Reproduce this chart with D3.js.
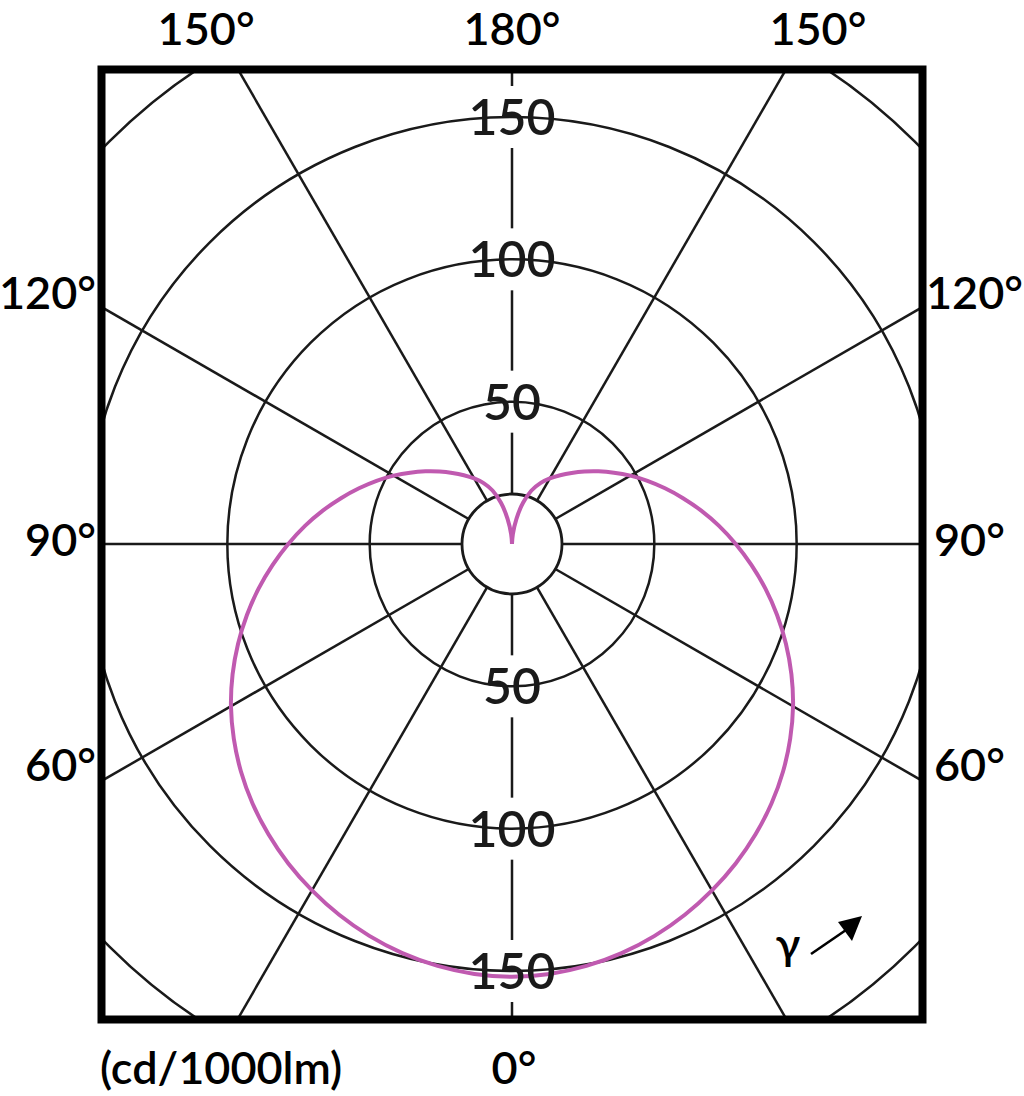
<!DOCTYPE html>
<html><head><meta charset="utf-8">
<script src="https://cdn.jsdelivr.net/npm/d3@7"></script>
<style>html,body{margin:0;padding:0;background:#fff;}svg{display:block;}</style>
</head><body>
<svg id="chart" width="1024" height="1096"></svg>
<script>
// ---- data ----
const gammaAngles = [0,5,10,15,20,25,30,35,40,45,50,55,60,65,70,75,80,85,90,95,100,105,110,115,120,125,130,135,140,145,150,155,160,165,170,175,180];
const intensity   = [152,151.6,150.5,148.8,146.5,143.7,140.5,137,133.1,128.9,124.3,119.3,114,108.3,102.4,96.4,90.4,84.4,78.6,73,67.5,62.2,57.2,52.5,48,43.7,39.7,36,32.6,29.5,26.6,23.6,20,15,9,3.5,0];
const ringValues = [50,100,150,200];
const ringLabels = [50,100,150];
const spokeAngles = [0,30,60,90,120,150,180,210,240,270,300,330];
const topLabels = [{t:"150°",a:-150},{t:"180°",a:180},{t:"150°",a:150}];
const sideLabels = [{t:"120°",a:120},{t:"90°",a:90},{t:"60°",a:60}];
const unitLabel = "(cd/1000lm)";
const zeroLabel = "0°";

// ---- layout ----
const svg = d3.select("#chart");
const cx = 512, cy = 544;
const frame = {x0:101.5, y0:69.5, x1:922.5, y1:1019.5};
const r = d3.scaleLinear().domain([0,150]).range([0,427]);
const innerR = 50;
const font = "Lato, 'Open Sans', 'DejaVu Sans', sans-serif";
const ink = "#1a1a1a";
const fs = 45;

svg.append("defs").append("clipPath").attr("id","clip")
  .append("rect").attr("x",frame.x0).attr("y",frame.y0)
  .attr("width",frame.x1-frame.x0).attr("height",frame.y1-frame.y0);

const g = svg.append("g").attr("clip-path","url(#clip)");
const rad = d => d*Math.PI/180;
const px = (gam, rr) => cx + rr*Math.sin(rad(gam));
const py = (gam, rr) => cy + rr*Math.cos(rad(gam));

// spokes
g.selectAll("line.spoke").data(spokeAngles).join("line")
  .attr("class","spoke")
  .attr("x1",d=>px(d,innerR)).attr("y1",d=>py(d,innerR))
  .attr("x2",d=>px(d,900)).attr("y2",d=>py(d,900))
  .attr("stroke",ink).attr("stroke-width",2.5);

// white gaps on the vertical spoke behind the ring labels
const gapH = 62;
ringLabels.forEach(v=>{
  [-1,1].forEach(s=>{
    g.append("rect").attr("x",cx-6).attr("y",cy + s*r(v) - gapH/2)
      .attr("width",12).attr("height",gapH).attr("fill","#fff");
  });
});

// rings
g.selectAll("circle.ring").data(ringValues).join("circle")
  .attr("class","ring").attr("cx",cx).attr("cy",cy).attr("r",d=>r(d))
  .attr("fill","none").attr("stroke",ink).attr("stroke-width",2.5);
g.append("circle").attr("cx",cx).attr("cy",cy).attr("r",innerR)
  .attr("fill","none").attr("stroke",ink).attr("stroke-width",2.8);

// intensity curve (symmetric C-planes)
const pts = [];
for (let i=gammaAngles.length-1;i>=0;i--) pts.push([Math.PI - rad(gammaAngles[i]), r(intensity[i])]);
for (let i=1;i<gammaAngles.length;i++) pts.push([Math.PI + rad(gammaAngles[i]), r(intensity[i])]);
const line = d3.lineRadial().angle(d=>d[0]).radius(d=>d[1]).curve(d3.curveCatmullRom.alpha(0.5));
g.append("path").attr("transform",`translate(${cx},${cy})`)
  .attr("d",line(pts)).attr("fill","none")
  .attr("stroke","#c05ab0").attr("stroke-width",4).attr("stroke-linejoin","round");

// ring labels
ringLabels.forEach(v=>{
  [-1,1].forEach(s=>{
    svg.append("text").attr("x",cx).attr("y",cy + s*r(v) + 18)
      .attr("text-anchor","middle")
      .attr("font-family",font).attr("font-size",50).attr("font-weight",600).attr("fill",ink)
      .text(v);
  });
});

// frame
svg.append("rect").attr("x",frame.x0).attr("y",frame.y0)
  .attr("width",frame.x1-frame.x0).attr("height",frame.y1-frame.y0)
  .attr("fill","none").attr("stroke","#000").attr("stroke-width",8);

function label(x,y,t,anchor){
  return svg.append("text").attr("x",x).attr("y",y).attr("text-anchor",anchor)
    .attr("font-family",font).attr("font-size",fs).attr("font-weight",600).attr("fill","#000").text(t);
}
// angle labels on top (baseline at 45)
topLabels.forEach(d=>{
  const gam = d.a;
  const x = cx + (cy-28)*Math.tan(rad(180-Math.abs(gam)))*(gam<0?-1:1) + (gam===180?0:(gam<0?-8:8));
  label(x,45,d.t,"middle");
});
// side labels
sideLabels.forEach(d=>{
  const y = cy - 411*Math.tan(rad(d.a-90)) + (d.a===90?-4:(d.a>90?-14:-16)) + 16;
  label(96,y,d.t,"end");
  label(d.a===120?926:934,y,d.t,"start");
});
// bottom labels
label(100,1084,unitLabel,"start");
label(514,1084,zeroLabel,"middle");

// gamma arrow
label(788,960,"γ","middle");
svg.append("line").attr("x1",811).attr("y1",954).attr("x2",846).attr("y2",930)
  .attr("stroke","#000").attr("stroke-width",2.6);
svg.append("path").attr("d","M862,916 L838,922 L852,941 Z").attr("fill","#000");
</script>
</body></html>
